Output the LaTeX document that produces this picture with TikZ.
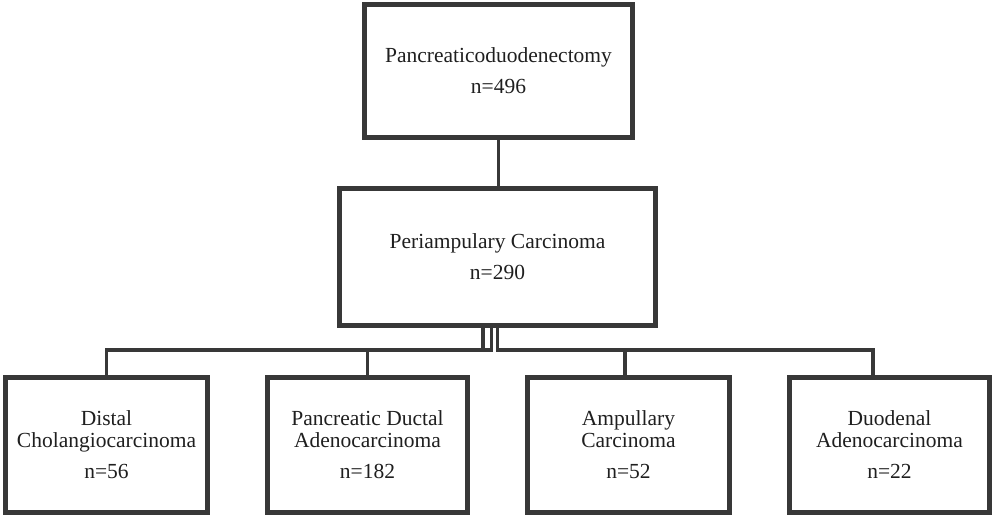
\documentclass[tikz,border=0pt]{standalone}
\usepackage{fontspec}
\setmainfont{Liberation Serif}
\begin{document}
\begin{tikzpicture}[x=1pt, y=-1pt,
    every node/.style={font=\fontsize{21.5}{22}\selectfont, align=center, text=black!88},
    box/.style={draw=black!78, line width=5pt, inner sep=0pt},
    link/.style={draw=black!78, line width=3.5pt}]
    \useasboundingbox (0,0) rectangle (993,517);
    \node [box, minimum width=268pt, minimum height=133pt] (pd) at (498.5,71) {Pancreaticoduodenectomy\\[9pt]n=496};
    \node [box, minimum width=316pt, minimum height=137pt] (pac) at (497.5,257) {Periampulary Carcinoma\\[9pt]n=290};
    \node [box, minimum width=202pt, minimum height=135pt] (dc) at (106.5,445) {Distal\\Cholangiocarcinoma\\[9pt]n=56};
    \node [box, minimum width=200pt, minimum height=135pt] (pdac) at (367.5,445) {Pancreatic Ductal\\Adenocarcinoma\\[9pt]n=182};
    \node [box, minimum width=202pt, minimum height=135pt] (ac) at (628.5,445) {Ampullary\\Carcinoma\\[9pt]n=52};
    \node [box, minimum width=200pt, minimum height=135pt] (da) at (889.5,445) {Duodenal\\Adenocarcinoma\\[9pt]n=22};
    \coordinate (bar) at (0,350);
    \coordinate (pa) at ([xshift=-14.5pt]pac.south);
    \coordinate (pb) at ([xshift=-6pt]pac.south);
    \coordinate (dtop) at ([xshift=-16.5pt]da.north);
    \coordinate (atop) at ([xshift=-3.5pt]ac.north);
    \draw [link] (pd.south) -- (pd.south |- pac.north);
    \draw [link] (pa) -- (pa |- bar);
    \draw [link] (pb) -- (pb |- bar) -- (dc.north |- bar) -- (dc.north);
    \draw [link] (pac.south) -- (pac.south |- bar) -- (dtop |- bar) -- (dtop);
    \draw [link] (pdac.north |- bar) -- (pdac.north);
    \draw [link] (atop |- bar) -- (atop);
\end{tikzpicture}
\end{document}
